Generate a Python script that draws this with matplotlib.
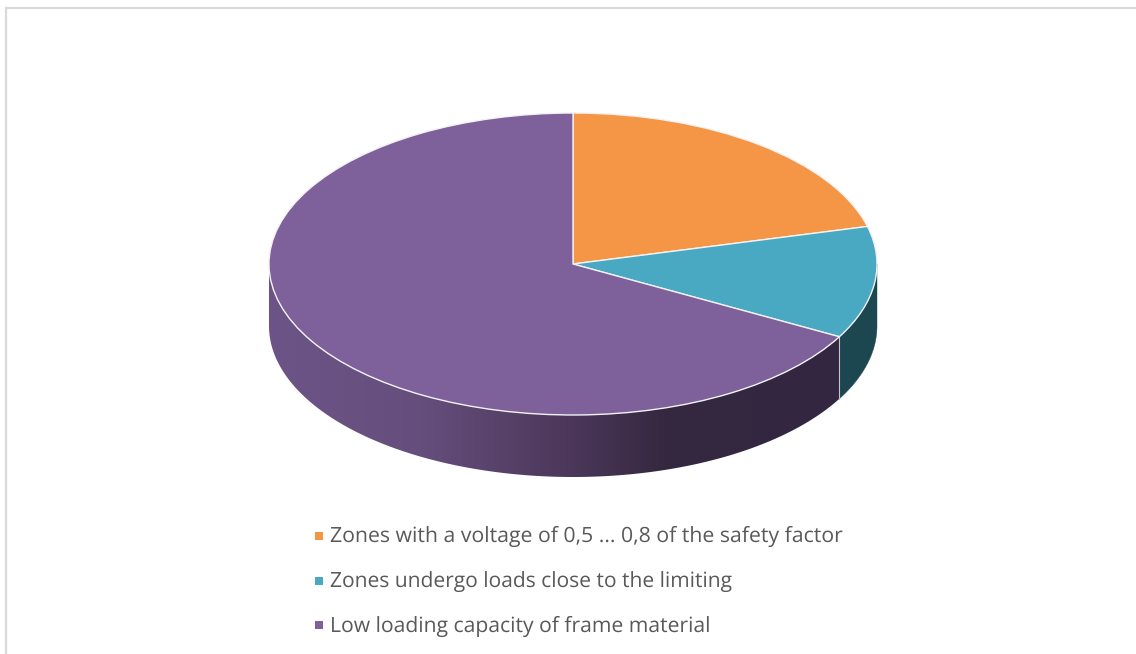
import numpy as np
import matplotlib
matplotlib.use("Agg")
import matplotlib.pyplot as plt
from matplotlib.patches import Polygon

labels = ["Zones with a voltage of 0,5 ... 0,8 of the safety factor",
          "Zones undergo loads close to the limiting",
          "Low loading capacity of frame material"]
values = [21, 12, 67]
colors = ["#F59647", "#49A8C2", "#7E609B"]

W, H = 1136, 654
CX, CY, RX, RY, DEPTH = 573, 264, 304, 151, 62
plt.rcParams['font.family'] = ['Open Sans', 'DejaVu Sans']
plt.rcParams['text.hinting'] = 'no_hinting'
plt.rcParams['text.hinting_factor'] = 8

fig = plt.figure(figsize=(W / 100, H / 100), dpi=100, facecolor="white")
# Axes units: one unit = pie radius on each axis, so the pie becomes an ellipse
ax = fig.add_axes([0, 0, 1, 1])

def px(x): return (x - CX) / RX
def py(y): return (CY - y) / RY

# Wall shading from left to right of the pie
shade_x = [-1.0, -0.5, 0.0, 0.30, 0.88]
shade_c = ["#6D5488", "#654E7C", "#4B3759", "#352840", "#332640"]

cum = np.cumsum([0] + values) / sum(values)
ang = 90 - 360 * cum
d = DEPTH / RY

def wall_poly(a0, a1, n):
    th = np.radians(np.linspace(a0, a1, n + 1))
    xs, ys = np.cos(th), np.sin(th)
    return np.r_[np.c_[xs, ys], np.c_[xs[::-1], ys[::-1] - d]]

# Purple wall: a horizontal gradient clipped to the curved band
grid = np.linspace(-1, 1, 1200)
rgb = np.array([matplotlib.colors.to_rgb(c) for c in shade_c])
grad = np.stack([np.interp(grid, shade_x, rgb[:, i]) for i in range(3)], axis=-1)[None, :, :]
purple_wall = Polygon(wall_poly(ang[2], -180, 200), closed=True, facecolor="none",
                      edgecolor="none", transform=ax.transData)
ax.add_patch(purple_wall)
im = ax.imshow(grad, extent=(-1, 1, -1 - d, 1), aspect="auto", interpolation="bilinear",
               zorder=1, origin="lower")
im.set_clip_path(purple_wall)

# Teal wall
ax.add_patch(Polygon(wall_poly(0, ang[2], 40), closed=True, facecolor="#1C4650",
                     edgecolor="#1C4650", lw=0.3, zorder=1))
# thin light divider between the wall pieces
bx, by = np.cos(np.radians(ang[2])), np.sin(np.radians(ang[2]))
ax.plot([bx, bx], [by, by - d], color="#C8C4CC", lw=0.8, zorder=2)

wedges, _ = ax.pie(values, colors=colors, startangle=90, counterclock=False,
                   radius=1, center=(0, 0),
                   wedgeprops=dict(edgecolor="#F2F2F2", linewidth=1.0))
for w in wedges:
    w.set_zorder(3)

ax.set_aspect("auto")
ax.set_xlim(px(0), px(W))
ax.set_ylim(py(H), py(0))
ax.set_axis_off()

# Chart-area border (top and left only are inside the crop)
ax.plot([px(6), px(6), px(W)], [py(H), py(8), py(8)], color="#D9D9D9", lw=1.6,
        zorder=0, solid_joinstyle="miter", clip_on=False)

# Legend
marker_y = [535.7, 580.7, 625.2]
base_y = [542, 587.6, 632]
sizes = [15.27, 15.1, 15.22]
for lab, col, my, by_, fs in zip(labels, colors, marker_y, base_y, sizes):
    ax.plot([px(318.5)], [py(my)], marker="s", ms=5.8, mew=0, color=col, zorder=4)
    ax.text(px(330), py(by_), lab, fontsize=fs, color="#595959", va="baseline", ha="left")

fig.savefig("out.png", dpi=100, facecolor="white")
